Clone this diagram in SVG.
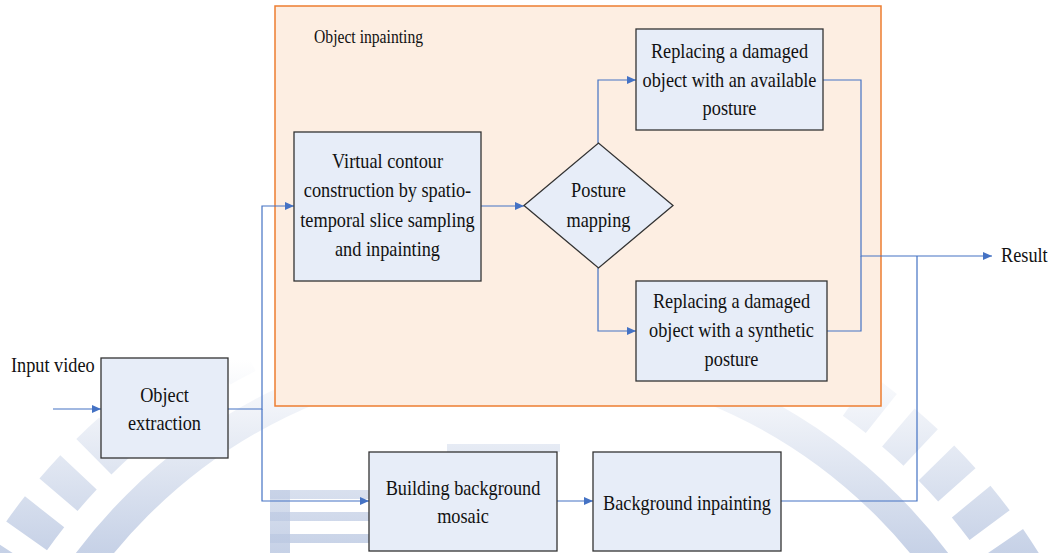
<svg xmlns="http://www.w3.org/2000/svg" width="1053" height="553" viewBox="0 0 1053 553">
<style>
.box{fill:#E7EDF8;stroke:#333;stroke-width:1.3}
.frame{fill:#FDEEE2;stroke:#ED7D31;stroke-width:1.5}
.t{font-family:"Liberation Serif","Times New Roman",serif;font-size:21px;fill:#111;text-anchor:middle}
.tl{font-family:"Liberation Serif","Times New Roman",serif;font-size:21px;fill:#111}
.c{fill:none;stroke:#4472C4;stroke-width:1.2}
.a{marker-end:url(#arr)}
</style>
<defs>
<marker id="arr" markerUnits="userSpaceOnUse" markerWidth="9" markerHeight="8" refX="9" refY="4" orient="auto">
<path d="M0,0 L9,4 L0,8 z" fill="#4472C4"/>
</marker>
<linearGradient id="wm" gradientUnits="userSpaceOnUse" x1="0" y1="553" x2="0" y2="360">
<stop offset="0" stop-color="#BCC9E2" stop-opacity="0.85"/>
<stop offset="1" stop-color="#BCC9E2" stop-opacity="0"/>
</linearGradient>
</defs>
<rect width="1053" height="553" fill="#fff"/>
<g id="watermark">
<circle cx="512" cy="880" r="530" fill="none" stroke="url(#wm)" stroke-width="30"/>
<circle cx="512" cy="880" r="595" fill="none" stroke="url(#wm)" stroke-width="50" stroke-dasharray="30 22"/>
<rect x="270" y="490" width="20" height="63" fill="url(#wm)"/>
<rect x="270" y="490" width="100" height="9" fill="url(#wm)"/>
<rect x="270" y="512" width="100" height="9" fill="url(#wm)"/>
<rect x="270" y="534" width="100" height="9" fill="url(#wm)"/>
<rect x="447" y="444" width="113" height="8" fill="url(#wm)"/>
</g>
<g id="object-inpainting-frame">
<rect class="frame" x="275" y="6" width="606" height="400"/>
<text class="tl" transform="translate(314,43) scale(0.87,1)" style="font-size:18px">Object inpainting</text>
</g>
<g id="connectors">
<path class="c a" d="M53,409 H101"/>
<path class="c a" d="M228,409 H262 V206 H294"/>
<path class="c a" d="M262,409 V501 H369"/>
<path class="c a" d="M481,206 H524"/>
<path class="c a" d="M598,143 V80 H636"/>
<path class="c a" d="M598,268 V331 H636"/>
<path class="c a" d="M823,80 H861 V256 H992"/>
<path class="c" d="M827,331 H861 V256"/>
<path class="c a" d="M557,501 H593"/>
<path class="c" d="M781,501 H917 V256"/>
</g>
<g id="input-label">
<text class="tl" transform="translate(11,372) scale(0.87,1)">Input video</text>
</g>
<g id="result-label">
<text class="tl" transform="translate(1001,262) scale(0.87,1)">Result</text>
</g>
<g id="object-extraction">
<rect class="box" x="101" y="358" width="127" height="100"/>
<g transform="translate(164.5,0) scale(0.87,1)">
<text class="t" x="0" y="402">Object</text>
<text class="t" x="0" y="430">extraction</text>
</g>
</g>
<g id="virtual-contour">
<rect class="box" x="294" y="132" width="187" height="149"/>
<g transform="translate(387.5,0) scale(0.87,1)">
<text class="t" x="0" y="168">Virtual contour</text>
<text class="t" x="0" y="197">construction by spatio-</text>
<text class="t" x="0" y="227">temporal slice sampling</text>
<text class="t" x="0" y="256">and inpainting</text>
</g>
</g>
<g id="posture-mapping">
<path class="box" d="M524,205.5 L598.5,143 L673,205.5 L598.5,268 Z"/>
<g transform="translate(598.5,0) scale(0.87,1)">
<text class="t" x="0" y="197">Posture</text>
<text class="t" x="0" y="227">mapping</text>
</g>
</g>
<g id="replace-available">
<rect class="box" x="636" y="29" width="187" height="101"/>
<g transform="translate(729.5,0) scale(0.87,1)">
<text class="t" x="0" y="58">Replacing a damaged</text>
<text class="t" x="0" y="87">object with an available</text>
<text class="t" x="0" y="115">posture</text>
</g>
</g>
<g id="replace-synthetic">
<rect class="box" x="636" y="281" width="191" height="100"/>
<g transform="translate(731.5,0) scale(0.87,1)">
<text class="t" x="0" y="308">Replacing a damaged</text>
<text class="t" x="0" y="337">object with a synthetic</text>
<text class="t" x="0" y="366">posture</text>
</g>
</g>
<g id="building-background">
<rect class="box" x="369" y="452" width="188" height="99"/>
<g transform="translate(463,0) scale(0.87,1)">
<text class="t" x="0" y="495">Building background</text>
<text class="t" x="0" y="523">mosaic</text>
</g>
</g>
<g id="background-inpainting">
<rect class="box" x="593" y="452" width="188" height="99"/>
<g transform="translate(687,0) scale(0.87,1)">
<text class="t" x="0" y="510">Background inpainting</text>
</g>
</g>
</svg>
